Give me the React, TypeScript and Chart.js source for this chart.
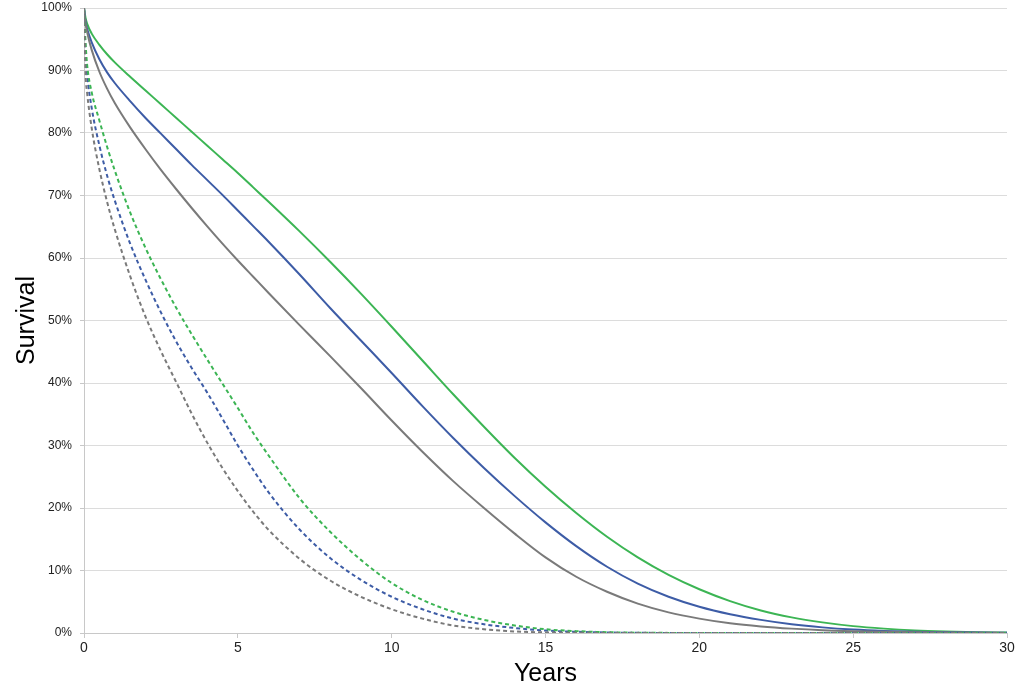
import React, { useEffect, useRef } from "react";
import { Chart, registerables } from "chart.js";

Chart.register(...registerables);

const years = [0, 0.05, 0.1, 0.25, 0.5, 0.75, 1, 1.5, 2, 2.5, 3, 3.5, 4, 4.5, 5, 5.5, 6, 7, 8, 9, 10, 11, 12, 13, 14, 15, 16, 17, 18, 19, 20, 21, 22, 23, 24, 25, 26, 27, 28, 29, 30];

const greenSolid = [100, 98.4, 97.5, 95.9, 94.1, 92.6, 91.3, 89, 86.8, 84.6, 82.4, 80.2, 78, 75.8, 73.6, 71.3, 69, 64.3, 59.4, 54.3, 49, 43.6, 38.2, 33, 28, 23.4, 19.2, 15.4, 12.1, 9.3, 7, 5.1, 3.6, 2.5, 1.7, 1.1, 0.7, 0.42, 0.25, 0.14, 0.08];
const blueSolid = [100, 97.8, 96.7, 94.5, 91.8, 89.7, 88, 85.1, 82.4, 79.9, 77.4, 74.9, 72.5, 70.1, 67.6, 65.1, 62.6, 57.4, 52, 46.8, 41.6, 36.3, 31.2, 26.4, 21.9, 17.7, 13.9, 10.6, 7.9, 5.8, 4.2, 3.0, 2.1, 1.4, 0.9, 0.55, 0.33, 0.2, 0.12, 0.07, 0.04];
const graySolid = [100, 97.6, 96.2, 93.3, 89.8, 87.1, 84.8, 80.9, 77.4, 74.1, 71, 68, 65.1, 62.3, 59.6, 57, 54.4, 49.3, 44.3, 39.2, 34, 29, 24.3, 20, 15.9, 12.1, 9, 6.6, 4.7, 3.3, 2.3, 1.55, 1.05, 0.7, 0.45, 0.3, 0.2, 0.12, 0.07, 0.04, 0.02];
const greenDashed = [100, 94.5, 91, 86.5, 82, 77.8, 74, 67.3, 61.6, 56.6, 52, 47.8, 43.8, 39.9, 36, 32, 28.4, 21.6, 16.2, 11.7, 8, 5.3, 3.4, 2.1, 1.2, 0.6, 0.3, 0.13, 0.05, 0.02, 0.01, 0, 0, 0, 0, 0, 0, 0, 0, 0, 0];
const blueDashed = [100, 93, 89.5, 84, 78, 73.2, 69.2, 62.3, 56.5, 51.3, 46.6, 42.4, 38.5, 34.3, 30, 26.1, 22.5, 16.6, 12, 8.5, 5.8, 3.8, 2.3, 1.4, 0.8, 0.4, 0.2, 0.08, 0.03, 0.01, 0, 0, 0, 0, 0, 0, 0, 0, 0, 0, 0];
const grayDashed = [100, 89.5, 86.5, 80.8, 74.2, 69, 64.6, 57.1, 50.6, 45.1, 40.1, 35.1, 30.5, 26.4, 22.7, 19.4, 16.5, 11.9, 8.4, 5.8, 3.8, 2.3, 1.2, 0.6, 0.25, 0.1, 0.04, 0.01, 0, 0, 0, 0, 0, 0, 0, 0, 0, 0, 0, 0, 0];

const xTickValues = [0, 5, 10, 15, 20, 25, 30];
const yTickValues = [0, 10, 20, 30, 40, 50, 60, 70, 80, 90, 100];

const GREEN = "#3cb554";
const BLUE = "#3d5ca6";
const GRAY = "#7a7a7a";
const FONT = "'Liberation Sans', Arial, Helvetica, sans-serif";

export default function App() {
  const ref = useRef<HTMLCanvasElement>(null);

  useEffect(() => {
    if (!ref.current) return;
    const pts = (vals: number[]) => years.map((x, i) => ({ x, y: vals[i] }));
    const ds = (label: string, vals: number[], color: string, dashed: boolean) => ({
      label,
      data: pts(vals),
      borderColor: color,
      backgroundColor: color,
      borderWidth: 2,
      borderDash: dashed ? [4, 3] : [],
      pointRadius: 0,
      cubicInterpolationMode: "monotone" as const,
      fill: false,
    });
    const chart = new Chart(ref.current, {
      type: "line",
      data: {
        datasets: [
          ds("Gray dashed", grayDashed, GRAY, true),
          ds("Green dashed", greenDashed, GREEN, true),
          ds("Blue dashed", blueDashed, BLUE, true),
          ds("Gray", graySolid, GRAY, false),
          ds("Blue", blueSolid, BLUE, false),
          ds("Green", greenSolid, GREEN, false),
        ],
      },
      options: {
        animation: false,
        responsive: false,
        layout: { padding: { top: 8, right: 13, left: 0, bottom: 0 } },
        plugins: { legend: { display: false }, tooltip: { enabled: false } },
        scales: {
          x: {
            type: "linear",
            min: 0,
            max: 30,
            afterBuildTicks: (s: any) => {
              s.ticks = xTickValues.map((v) => ({ value: v }));
            },
            afterFit: (s: any) => {
              s.height = 60;
            },
            ticks: {
              font: { family: FONT, size: 14 },
              color: "#222",
              padding: 2,
              maxRotation: 0,
            },
            grid: { drawOnChartArea: false, tickLength: 5, color: "#c8c8c8" },
            border: { color: "#c8c8c8" },
            title: {
              display: true,
              text: "Years",
              font: { family: FONT, size: 25 },
              color: "#000",
              padding: { top: 0, bottom: 4 },
            },
          },
          y: {
            type: "linear",
            min: 0,
            max: 100,
            afterBuildTicks: (s: any) => {
              s.ticks = yTickValues.map((v) => ({ value: v }));
            },
            afterFit: (s: any) => {
              s.width = 84;
              s.paddingTop = 0;
              s.paddingBottom = 0;
            },
            ticks: {
              font: { family: FONT, size: 12 },
              color: "#222",
              padding: 8,
              callback: (v: any) => `${v}%`,
            },
            grid: { color: "#dcdcdc", tickLength: 4, tickColor: "#c8c8c8" },
            border: { color: "#c8c8c8" },
            title: {
              display: true,
              text: "Survival",
              font: { family: FONT, size: 25 },
              color: "#000",
              padding: { top: 12, bottom: 0 },
            },
          },
        },
      },
    });
    return () => chart.destroy();
  }, []);

  return (
    <div style={{ position: "fixed", left: 0, top: 0, width: 1020, height: 693, background: "#fff" }}>
      <canvas ref={ref} width={1020} height={693} style={{ display: "block" }} />
    </div>
  );
}
